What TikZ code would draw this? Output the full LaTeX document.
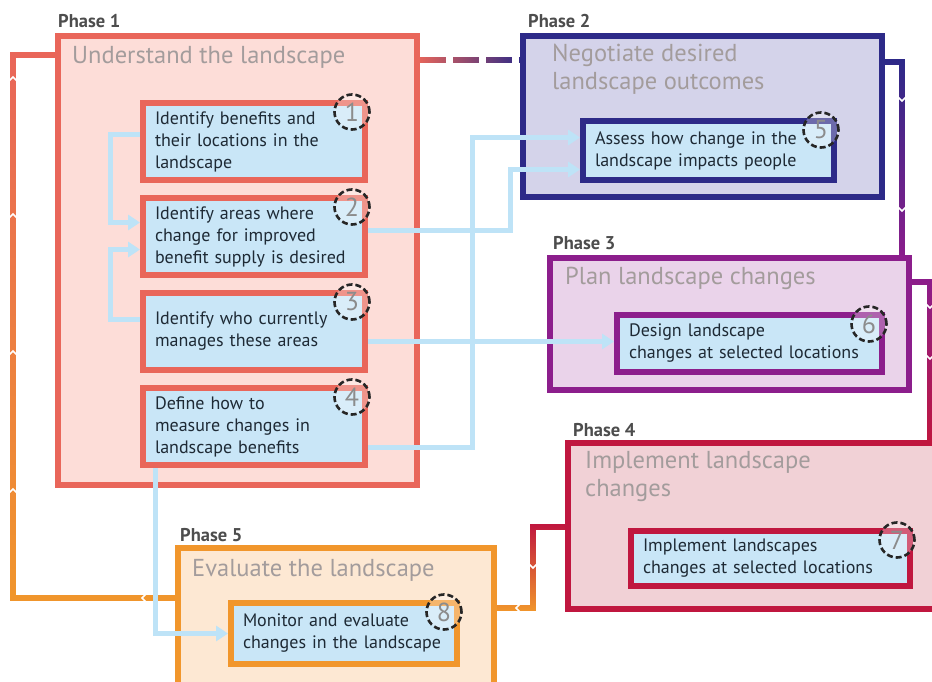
\documentclass[tikz,border=0pt]{standalone}
\usepackage{fontspec}
\setmainfont{PT Sans}
\usepackage{tikz}
\usetikzlibrary{positioning}
\usetikzlibrary{arrows.meta}
\usetikzlibrary{fadings}
\definecolor{oneline}{HTML}{E9665A}
\definecolor{onefill}{HTML}{FDDDD8}
\definecolor{twoline}{HTML}{2D2A88}
\definecolor{twofill}{HTML}{D4D3EA}
\definecolor{threeline}{HTML}{8C1E8C}
\definecolor{threefill}{HTML}{EAD3EA}
\definecolor{fourline}{HTML}{C0173F}
\definecolor{fourfill}{HTML}{F1D1D6}
\definecolor{fiveline}{HTML}{F1962C}
\definecolor{fivefill}{HTML}{FDE8D3}
\definecolor{stepfill}{HTML}{C9E6F7}
\definecolor{linkblue}{HTML}{BEE3F7}
\definecolor{titlegray}{HTML}{A39C9C}
\definecolor{labelgray}{HTML}{4D4D4D}
\definecolor{textdark}{HTML}{1E2A35}
\tikzfading[name=fadetop, top color=transparent!0, bottom color=transparent!100]
\tikzfading[name=faderight, left color=transparent!100, right color=transparent!0]
\tikzstyle{phasebox} = [draw, rectangle, line width=6pt, anchor=north west, minimum width=359pt]
\tikzstyle{phaselabel} = [anchor=south west, inner sep=0pt, text=labelgray, font=\bfseries\fontsize{18.5}{20}\selectfont]
\tikzstyle{phasetitle} = [anchor=north west, inner sep=0pt, align=left, text=titlegray, font=\fontsize{24.5}{28}\selectfont]
\tikzstyle{stepbox} = [draw, rectangle, line width=6pt, fill=stepfill, text=textdark, align=left, inner xsep=12pt, anchor=north west, font=\fontsize{18}{22}\selectfont]
\tikzstyle{badge} = [circle, draw=black!85, line width=2.6pt, dash pattern=on 6pt off 3pt, fill=white, fill opacity=0.3, text opacity=1, minimum size=35pt, inner sep=0pt, text=black!45, font=\fontsize{26}{26}\selectfont]
\tikzstyle{link} = [draw=linkblue, line width=5pt]
\tikzstyle{linkarrow} = [link, -{Triangle[length=12pt,width=15pt]}]
\tikzstyle{notch} = [draw=white, line width=1.5pt]
\tikzset{cyclelink/.style 2 args={line width=6pt, draw=#1, postaction={draw=#2, path fading=fadetop}}}

\begin{document}
\begin{tikzpicture}[x=1pt, y=-1pt]
  \useasboundingbox (0,0) rectangle (932,682);
  \fill[white] (0,0) rectangle (932,682);

  % the five phases
  \node[phasebox, draw=oneline, fill=onefill, minimum height=449pt] (understand) at (55,33) {};
  \node[phasebox, draw=twoline, fill=twofill, minimum height=161pt] (negotiate) at (520,33) {};
  \node[phasebox, draw=threeline, fill=threefill, minimum height=132pt] (plan) at (547,255) {};
  \node[phasebox, draw=fourline, fill=fourfill, minimum width=390pt, minimum height=166pt] (apply) at (565,440) {};
  \node[phasebox, draw=fiveline, fill=fivefill, minimum width=316pt, minimum height=160pt] (evaluate) at (175,545) {};

  \node[phaselabel] at ([xshift=3pt,yshift=5pt]understand.north west) {Phase 1};
  \node[phaselabel] at ([xshift=8pt,yshift=5pt]negotiate.north west) {Phase 2};
  \node[phaselabel] at ([xshift=6pt,yshift=5pt]plan.north west) {Phase 3};
  \node[phaselabel] at ([xshift=8pt,yshift=3pt]apply.north west) {Phase 4};
  \node[phaselabel] at ([xshift=5pt,yshift=3pt]evaluate.north west) {Phase 5};

  \node[phasetitle] at ([xshift=17pt,yshift=-13pt]understand.north west) {Understand the landscape};
  \node[phasetitle] at ([xshift=32pt,yshift=-11pt]negotiate.north west) {Negotiate desired\\landscape outcomes};
  \node[phasetitle] at ([xshift=18pt,yshift=-12pt]plan.north west) {Plan landscape changes};
  \node[phasetitle] at ([xshift=20pt,yshift=-11pt]apply.north west) {Implement landscape\\changes};
  \node[phasetitle] at ([xshift=17pt,yshift=-14pt]evaluate.north west) {Evaluate the landscape};

  % cycle from phase to phase
  \draw[line width=6pt, draw=oneline, dash pattern=on 26pt off 7pt, postaction={draw=twoline, path fading=faderight}]
    ([yshift=-27pt]understand.north east) -- ([yshift=-27pt]understand.north east -| negotiate.west);
  \draw[cyclelink={threeline}{twoline}] ([yshift=-29pt]negotiate.north east) -| ([xshift=-10pt]plan.north east);
  \draw[cyclelink={fourline}{threeline}] ([yshift=-27pt]plan.north east) -| ([xshift=365pt]apply.north west);
  \draw[cyclelink={fiveline}{fourline}] ([yshift=-87pt]apply.north west) -- ++(-32pt,0pt) |- ([yshift=-63pt]evaluate.north east);
  \draw[cyclelink={fiveline}{oneline}] ([yshift=-53pt]evaluate.north west) -- ++(-162pt,0pt) |- ([yshift=-22pt]understand.north west);

  \foreach \y in {78,215,352,490} \draw[notch] (9,\y+3) -- (13,\y-1) -- (17,\y+3);
  \foreach \y in {100,210} \draw[notch] (898,\y-3) -- (902,\y+1) -- (906,\y-3);
  \foreach \y in {307,358} \draw[notch] (926,\y-3) -- (930,\y+1) -- (934,\y-3);
  \draw[notch] (529,564) -- (533,568) -- (537,564);
  \draw[notch] (520,604) -- (516,608) -- (520,612);
  \draw[notch] (146,594) -- (142,598) -- (146,602);

  % step boxes
  \node[stepbox, draw=oneline, minimum width=222pt, minimum height=77pt, text width=198pt] (ident) at ([xshift=85pt,yshift=-67pt]understand.north west) {Identify benefits and\\their locations in the\\landscape};
  \node[stepbox, draw=oneline, minimum width=222pt, minimum height=77pt, text width=198pt, below=12pt of ident] (areas) {Identify areas where\\change for improved\\benefit supply is desired};
  \node[stepbox, draw=oneline, minimum width=222pt, minimum height=77pt, text width=198pt, below=12pt of areas] (managers) {Identify who currently\\manages these areas};
  \node[stepbox, draw=oneline, minimum width=222pt, minimum height=77pt, text width=198pt, below=12pt of managers] (measure) {Define how to\\measure changes in\\landscape benefits};
  \node[stepbox, draw=twoline, minimum width=251pt, minimum height=59pt, text width=227pt] (assess) at ([xshift=60pt,yshift=-85pt]negotiate.north west) {Assess how change in the\\landscape impacts people};
  \node[stepbox, draw=threeline, minimum width=265pt, minimum height=57pt, text width=241pt] (design) at ([xshift=67pt,yshift=-57pt]plan.north west) {Design landscape\\changes at selected locations};
  \node[stepbox, draw=fourline, minimum width=279pt, minimum height=55pt, text width=255pt] (implement) at ([xshift=63pt,yshift=-88pt]apply.north west) {Implement landscapes\\changes at selected locations};
  \node[stepbox, draw=fiveline, minimum width=226pt, minimum height=61pt, text width=202pt] (monitor) at ([xshift=53pt,yshift=-55pt]evaluate.north west) {Monitor and evaluate\\changes in the landscape};

  % links between steps
  \draw[linkarrow] ([yshift=7pt]ident.west) -- ++(-30pt,0pt) |- ([yshift=14pt]areas.west);
  \draw[linkarrow] ([yshift=12pt]managers.west) -- ++(-30pt,0pt) |- ([yshift=-13pt]areas.west);
  \draw[linkarrow] ([yshift=6pt]areas.east) -- ++(142pt,0pt) |- ([yshift=-19pt]assess.west);
  \draw[linkarrow] ([yshift=-21pt]measure.east) -- ++(104pt,0pt) |- ([yshift=13pt]assess.west);
  \draw[linkarrow] ([yshift=-10pt]managers.east) -- ([yshift=-10pt]managers.east -| design.west);
  \draw[linkarrow] ([xshift=-99pt]measure.south) |- (monitor.west);

  % step numbers
  \node[badge] (one) at ([xshift=-16pt,yshift=-12pt]ident.north east) {1};
  \node[badge] (two) at ([xshift=-16pt,yshift=-12pt]areas.north east) {2};
  \node[badge] (three) at ([xshift=-16pt,yshift=-12pt]managers.north east) {3};
  \node[badge] (four) at ([xshift=-16pt,yshift=-12pt]measure.north east) {4};
  \node[badge] (five) at ([xshift=-16pt,yshift=-12pt]assess.north east) {5};
  \node[badge] (six) at ([xshift=-16pt,yshift=-12pt]design.north east) {6};
  \node[badge] (seven) at ([xshift=-16pt,yshift=-12pt]implement.north east) {7};
  \node[badge] (eight) at ([xshift=-16pt,yshift=-12pt]monitor.north east) {8};
\end{tikzpicture}
\end{document}
